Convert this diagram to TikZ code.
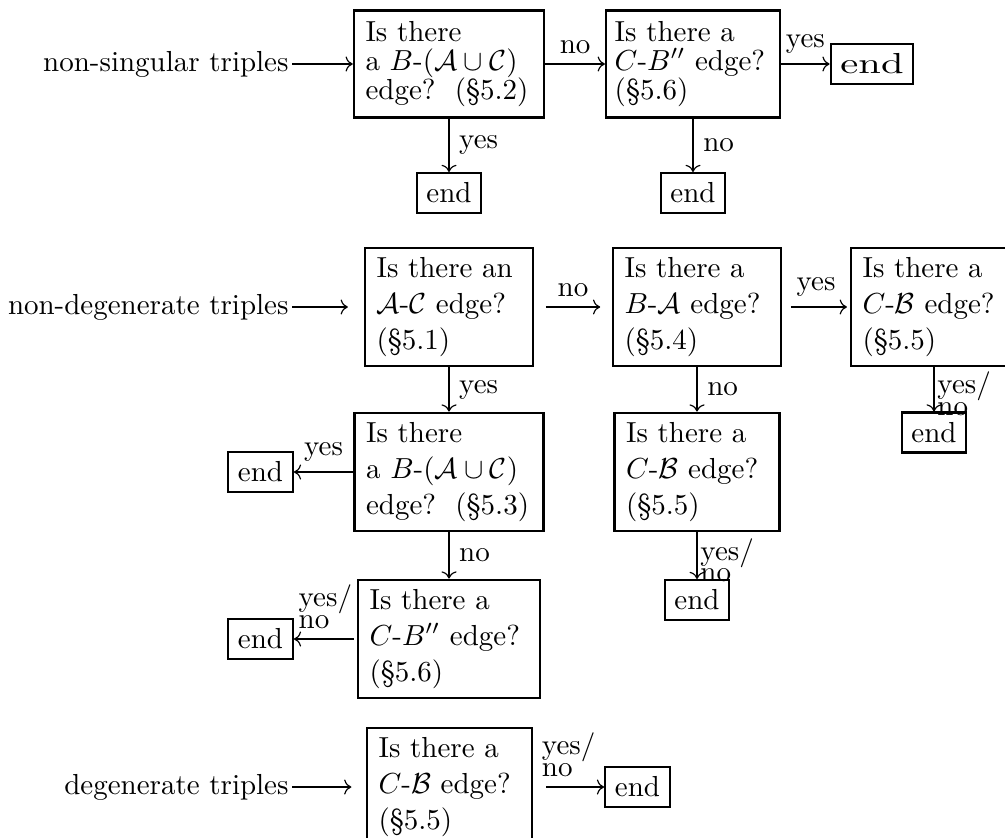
\documentclass[tikz,border=0pt]{standalone}
\usepackage{amsmath,amssymb}
\usepackage{graphicx}
\usetikzlibrary{arrows, arrows.meta}

\begin{document}
\begin{tikzpicture}[x=0.345pt, y=-0.345pt, >={Computer Modern Rightarrow},
    qbox/.style={draw, line width=0.8pt, align=left, inner xsep=4pt, text width=#1,
        minimum height=38pt, font=\fontsize{10}{12.4}\selectfont},
    tight/.style={font=\fontsize{10}{10}\selectfont, minimum height=37pt},
    endbox/.style={draw, line width=0.8pt},
    yn/.style={align=left, font=\fontsize{10}{7.5}\selectfont}]
    \useasboundingbox (0,0) rectangle (1005,838);

    % non-singular triples
    \node[anchor=east, inner sep=1pt] (ns) at (292,64) {non-singular triples};
    \node[qbox=57.6pt, tight] (q1) at (449,64) {Is there\\ a $B$-$(\mathcal{A}\cup\mathcal{C})$\\ edge?\ \ (\S5.2)};
    \node[qbox=54pt, tight, inner xsep=3pt] (q2) at (693,64) {Is there a\\ $C$-$B''$ edge?\\ (\S5.6)};
    \node[endbox] (e1) at (872,64) {\scalebox{1.4}[1]{end}};
    \node[endbox] (e2) at (449,193) {end};
    \node[endbox] (e3) at (693,193) {end};

    \draw[->] (ns) -- (q1);
    \draw[->] (q1) -- (q2) node [midway,above] {no};
    \draw[->] (q2) -- (e1) node [midway,above] {yes};
    \draw[->] (q1) -- (e2) node [midway,right] {yes};
    \draw[->] (q2) -- (e3) node [midway,right] {no};

    % non-degenerate triples
    \node[anchor=east, inner sep=1pt] (nd) at (292,307) {non-degenerate triples};
    \node[qbox=50pt] (q3) at (449,307) {Is there an\\ $\mathcal{A}$-$\mathcal{C}$ edge?\\ (\S5.1)};
    \node[qbox=50pt] (q4) at (697,307) {Is there a\\ $B$-$\mathcal{A}$ edge?\\ (\S5.4)};
    \node[qbox=50pt] (q5) at (935,307) {Is there a\\ $C$-$\mathcal{B}$ edge?\\ (\S5.5)};
    \node[qbox=57.2pt] (q6) at (449,472) {Is there\\ a $B$-$(\mathcal{A}\cup\mathcal{C})$\\ edge?\ \ (\S5.3)};
    \node[qbox=48.9pt] (q7) at (697,472) {Is there a\\ $C$-$\mathcal{B}$ edge?\\ (\S5.5)};
    \node[qbox=54.8pt] (q8) at (449,639) {Is there a\\ $C$-$B''$ edge?\\ (\S5.6)};
    \node[endbox] (e4) at (934,432.5) {end};
    \node[endbox] (e5) at (260.5,472) {end};
    \node[endbox] (e6) at (697,600) {end};
    \node[endbox] (e7) at (260.5,639) {end};

    \draw[->, shorten >=5.5pt] (nd) -- (q3);
    \draw[->, shorten <=4pt, shorten >=4pt] (q3) -- (q4) node [midway,above] {no};
    \draw[->, shorten <=3pt, shorten >=1pt] (q4) -- (q5) node [midway,above] {yes};
    \draw[->] (q3) -- (q6) node [midway,right] {yes};
    \draw[->] (q4) -- (q7) node [midway,right] {no};
    \draw[->] (q5.south -| e4) -- (e4) node [pos=0.6,right,yn,inner xsep=1pt] {yes/\\no};
    \draw[->] (q6) -- (e5) node [midway,above] {yes};
    \draw[->] (q6) -- (q8) node [midway,right] {no};
    \draw[->] (q7) -- (e6) node [pos=0.6,right,yn,inner xsep=1pt] {yes/\\no};
    \draw[->, shorten <=1pt] (q8) -- (e7) node [midway,above,yn] {yes/\\no};

    % degenerate triples
    \node[anchor=east, inner sep=1pt] (dg) at (292,787) {degenerate triples};
    \node[qbox=48.9pt] (q9) at (449.5,787) {Is there a\\ $C$-$\mathcal{B}$ edge?\\ (\S5.5)};
    \node[endbox] (e8) at (637.5,787) {end};

    \draw[->, shorten >=5pt] (dg) -- (q9);
    \draw[->, shorten <=4.5pt] (q9) -- (e8) node [midway,above,yn] {yes/\\no};
\end{tikzpicture}
\end{document}
